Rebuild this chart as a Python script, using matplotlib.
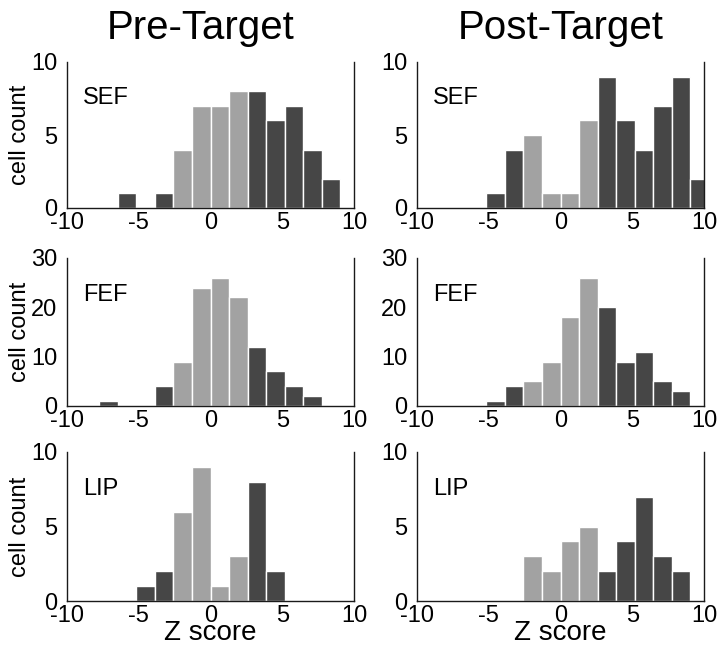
import numpy as np
import matplotlib.pyplot as plt

plt.rcParams['font.family'] = ['Liberation Sans', 'DejaVu Sans']

# bin width of the z-score histograms
bin_w = 1.29

# counts per bin, with the index of the first bin (left edge = index * bin_w)
pre_sef_start, pre_sef = -5, [1, 0, 1, 4, 7, 7, 8, 8, 6, 7, 4, 2]
pre_fef_start, pre_fef = -6, [1, 0, 0, 4, 9, 24, 26, 22, 12, 7, 4, 2]
pre_lip_start, pre_lip = -4, [1, 2, 6, 9, 1, 3, 8, 2]
post_sef_start, post_sef = -4, [1, 4, 5, 1, 1, 6, 9, 6, 4, 7, 9, 2]
post_fef_start, post_fef = -4, [1, 4, 5, 9, 18, 26, 20, 9, 11, 5, 3]
post_lip_start, post_lip = -2, [3, 2, 4, 5, 2, 4, 7, 3, 2]

areas = ["SEF", "FEF", "LIP"]
ymaxes = [10, 30, 10]
yticks = [[0, 5, 10], [0, 10, 20, 30], [0, 5, 10]]
xticks = [-10, -5, 0, 5, 10]

pre = [(pre_sef_start, pre_sef), (pre_fef_start, pre_fef), (pre_lip_start, pre_lip)]
post = [(post_sef_start, post_sef), (post_fef_start, post_fef), (post_lip_start, post_lip)]

dark = "#464646"
light = "#a2a2a2"

fig = plt.figure(figsize=(7.2, 6.48), dpi=100)

col_x = [67 / 720, 417 / 720]
col_w = 287 / 720
# axes bottom / top in pixels from the top of the figure
row_bottoms = [208, 406, 601]
row_tops = [62, 258, 452]


def draw(ax, start, counts, area, ymax, ticks, first_col, last_row):
    idx = np.arange(start, start + len(counts))
    left = idx * bin_w
    colours = [light if -2 <= k < 2 else dark for k in idx]
    ax.bar(left, counts, width=bin_w, align='edge', color=colours,
           edgecolor='white', linewidth=1.0, zorder=2)
    ax.set_xlim(-10, 10)
    ax.set_ylim(0, ymax)
    ax.set_xticks(xticks)
    ax.set_xticklabels([str(t) for t in xticks])
    ax.set_yticks(ticks)
    ax.tick_params(length=0, labelsize=17)
    ax.tick_params(axis='x', pad=3)
    ax.tick_params(axis='y', pad=7)
    ax.spines['top'].set_visible(False)
    for s in ['left', 'right', 'bottom']:
        ax.spines[s].set_color('#1a1a1a')
        ax.spines[s].set_linewidth(1.0)
    ax.text(0.055, 0.75, area, transform=ax.transAxes, fontsize=17,
            ha='left', va='center')
    if first_col:
        ax.set_ylabel('cell count', fontsize=17, labelpad=0)
    if last_row:
        ax.set_xlabel('Z score', fontsize=20, labelpad=-5)


for r in range(3):
    bottom = 1 - row_bottoms[r] / 648
    height = (row_bottoms[r] - row_tops[r]) / 648
    for c, series in enumerate([pre, post]):
        ax = fig.add_axes([col_x[c], bottom, col_w, height])
        start, counts = series[r]
        draw(ax, start, counts, areas[r], ymaxes[r], yticks[r], c == 0, r == 2)

fig.text(col_x[0] + col_w / 2 - 10 / 720, 1 - 28 / 648, 'Pre-Target', fontsize=29,
         ha='center', va='center')
fig.text(col_x[1] + col_w / 2, 1 - 28 / 648, 'Post-Target', fontsize=29,
         ha='center', va='center')

plt.savefig('out.png', dpi=100)
